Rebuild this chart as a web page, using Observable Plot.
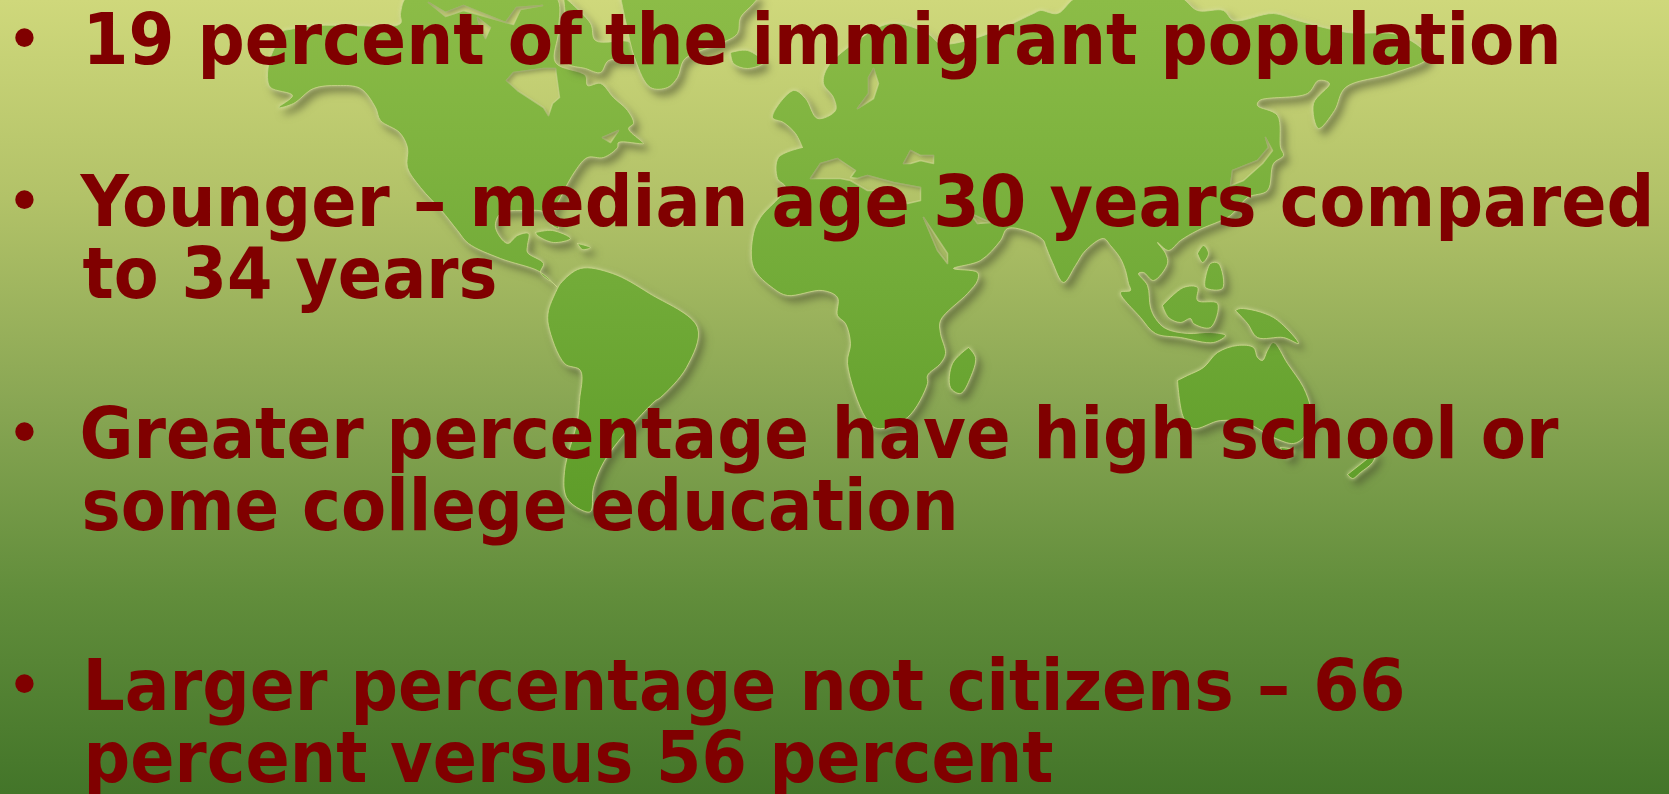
<!DOCTYPE html>
<html>
<head>
<meta charset="utf-8">
<script src="https://cdn.jsdelivr.net/npm/d3@7"></script>
<script src="https://cdn.jsdelivr.net/npm/@observablehq/plot@0.6"></script>
<style>
html,body{margin:0;padding:0;overflow:hidden;background:#8aa754}
svg{display:block}
.land path{filter:drop-shadow(0 0 2px rgba(222,230,170,.85)) drop-shadow(5px 6px 3.5px rgba(66,70,44,.5))}
.lake path{filter:url(#innerShade)}
</style>
</head>
<body>
<div id="chart"></div>
<script>
// Slide text
const bulletLines = [
  "19 percent of the immigrant population",
  "Younger \u2013 median age 30 years compared",
  "to 34 years",
  "Greater percentage have high school or",
  "some college education",
  "Larger percentage not citizens \u2013 66",
  "percent versus 56 percent"
];
const lineLeft = [82, 80, 82, 79, 81, 82, 83];
const lineRight = [1561, 1654, 497, 1558, 958, 1405, 1053];
const lineBase = [63, 225, 297, 457, 529, 709, 781];
const bulletRows = [38, 200, 432, 684];

// Map outlines
const northAmerica = [[283,30],[317,25],[350,25],[400,23],[400,13],[407,-4],[470,-4],[555,-4],[558,30],[555,62],[585,75],[587,85],[600,83],[613,97],[627,110],[633,123],[628,128],[640,140],[643,143],[618,142],[617,147],[603,157],[587,157],[575,170],[560,197],[553,212],[558,228],[552,225],[545,212],[525,210],[500,213],[495,227],[507,243],[517,235],[528,233],[527,245],[527,252],[543,263],[540,272],[553,283],[557,287],[548,278],[537,270],[500,258],[468,243],[457,230],[441,210],[420,187],[407,167],[407,147],[399,132],[380,120],[375,107],[360,88],[337,85],[313,88],[293,103],[278,107],[292,95],[270,87],[267,77],[270,57]];
const baffin = [[563,-4],[590,23],[595,40],[630,42],[635,57],[608,60],[600,72],[585,68],[566,62],[566,30]];
const cuba = [[535,232],[552,230],[570,238],[553,242],[537,235]];
const hispaniola = [[577,243],[590,247],[582,249]];
const greenland = [[620,-4],[625,20],[635,60],[650,87],[667,87],[677,77],[683,60],[693,53],[720,43],[737,33],[740,17],[753,3],[757,-4]];
const iceland = [[730,52],[747,50],[763,62],[747,68],[733,63]];
const southAmerica = [[556,290],[548,310],[548,325],[564,363],[580,370],[579,400],[577,420],[564,471],[566,497],[580,509],[590,511],[593,487],[606,457],[654,401],[660,397],[686,367],[697,327],[649,293],[612,273],[580,268],[560,283]];
const afroEurasia = [[802,147],[795,133],[783,122],[772,117],[793,90],[805,98],[817,118],[835,110],[833,97],[823,83],[827,67],[853,43],[890,23],[927,33],[940,43],[967,40],[1003,27],[1033,13],[1040,10],[1057,13],[1078,-4],[1178,-4],[1197,10],[1223,10],[1233,20],[1273,13],[1297,20],[1347,32],[1400,35],[1427,57],[1392,73],[1345,87],[1334,110],[1318,128],[1313,103],[1329,83],[1318,80],[1307,93],[1259,100],[1257,105],[1277,115],[1280,147],[1283,155],[1273,163],[1267,190],[1247,197],[1230,215],[1197,230],[1180,240],[1168,250],[1157,242],[1165,253],[1167,263],[1153,280],[1143,272],[1138,273],[1147,285],[1150,307],[1155,318],[1165,328],[1187,333],[1210,332],[1225,335],[1213,342],[1180,337],[1155,333],[1140,317],[1120,292],[1130,290],[1128,283],[1125,270],[1120,258],[1110,245],[1103,238],[1085,250],[1075,265],[1063,282],[1052,262],[1045,245],[1043,240],[1030,232],[1007,228],[1000,240],[980,260],[953,268],[977,272],[977,280],[967,293],[940,320],[940,333],[945,353],[940,363],[927,375],[927,383],[907,417],[877,428],[865,417],[847,363],[850,343],[845,323],[837,315],[837,297],[822,290],[787,295],[773,288],[753,267],[753,233],[760,217],[785,187],[777,178],[778,157]];
const madagascar = [[968,347],[975,357],[970,377],[960,393],[950,387],[952,363]];
const australia = [[1177,380],[1187,375],[1203,367],[1217,352],[1237,345],[1253,347],[1257,357],[1262,360],[1267,350],[1273,342],[1287,363],[1303,387],[1310,407],[1310,420],[1303,437],[1293,443],[1273,437],[1247,423],[1220,420],[1193,428],[1183,417]];
const tasmania = [[1280,447],[1293,450],[1287,458]];
const newZealand = [[1347,474],[1366,459],[1376,451],[1372,462],[1360,472],[1352,478]];
const borneo = [[1162,305],[1183,287],[1197,287],[1197,300],[1217,303],[1210,327],[1193,323],[1190,318],[1180,322],[1168,317]];
const luzon = [[1197,253],[1203,245],[1208,253],[1202,262]];
const mindanao = [[1205,277],[1210,263],[1218,263],[1222,288],[1205,287]];
const newGuinea = [[1235,310],[1240,308],[1273,317],[1298,343],[1283,337],[1257,337],[1247,323]];

// Inland water
const hudsonBay = [[506,80],[513,72],[543,68],[555,68],[559,97],[552,103],[548,115],[543,107],[517,90]];
const stLawrence = [[602,137],[618,130],[610,142]];
const arcticChannel = [[428,2],[445,12],[463,5],[505,22],[516,7],[542,5],[520,9],[513,24],[463,10],[445,16]];
const arcticPatch = [[477,17],[490,27],[485,38],[480,28]];
const mediterranean = [[810,178],[820,163],[837,158],[855,170],[850,177],[857,178],[867,175],[893,182],[920,187],[920,200],[907,203],[887,190],[867,190],[850,180],[840,178],[820,178]];
const blackSea = [[903,163],[910,150],[920,155],[933,155],[933,163],[920,160],[910,163]];
const bothnia = [[873,68],[878,83],[873,98],[857,108],[868,93],[868,77]];
const redSea = [[923,217],[947,253],[947,263],[937,250]];
const persianGulf = [[970,213],[990,222],[977,223]];
const japanSea = [[1265,137],[1268,147],[1257,160],[1232,170],[1230,185],[1243,180],[1262,163],[1272,150]];

const rows = (groups) => Object.entries(groups).flatMap(([name, pts]) =>
  [...pts, pts[0]].map(([x, y]) => ({name, x, y})));

const landRows = rows({northAmerica, baffin, cuba, hispaniola, greenland, iceland, southAmerica, afroEurasia, madagascar, australia, tasmania, newZealand, borneo, luzon, mindanao, newGuinea});
const waterRows = rows({hudsonBay, stLawrence, arcticChannel, arcticPatch, mediterranean, blackSea, bothnia, redSea, persianGulf, japanSea});
const textRows = bulletLines.map((text, i) => ({text, x: lineLeft[i], right: lineRight[i], y: lineBase[i]}));

const NS = "http://www.w3.org/2000/svg";
function paints() {
  const defs = document.createElementNS(NS, "defs");
  defs.innerHTML = `
  <linearGradient id="ocean" gradientUnits="userSpaceOnUse" x1="0" y1="0" x2="0" y2="794">
    <stop offset="0" stop-color="#cfd87b"/><stop offset=".25" stop-color="#b2c268"/>
    <stop offset=".5" stop-color="#8aa754"/><stop offset=".75" stop-color="#618d3b"/>
    <stop offset="1" stop-color="#437529"/>
  </linearGradient>
  <linearGradient id="landFill" gradientUnits="userSpaceOnUse" x1="0" y1="0" x2="0" y2="520">
    <stop offset="0" stop-color="#8cbc47"/><stop offset=".55" stop-color="#72ab38"/>
    <stop offset="1" stop-color="#5d9c28"/>
  </linearGradient>
  <filter id="innerShade" x="-20%" y="-20%" width="140%" height="140%">
    <feOffset in="SourceAlpha" dx="3" dy="3" result="o"/>
    <feGaussianBlur in="o" stdDeviation="2" result="b"/>
    <feComposite in="SourceAlpha" in2="b" operator="out" result="rim"/>
    <feFlood flood-color="#4e5336" flood-opacity=".55"/>
    <feComposite in2="rim" operator="in" result="shade"/>
    <feMerge><feMergeNode in="SourceGraphic"/><feMergeNode in="shade"/></feMerge>
  </filter>`;
  return defs;
}

const fitWidths = (index, scales, values, dims, ctx, next) => {
  const g = next(index, scales, values, dims, ctx);
  g.querySelectorAll("text").forEach((t, k) => {
    const d = textRows[index[k]];
    t.setAttribute("textLength", d.right - d.x);
    t.setAttribute("lengthAdjust", "spacingAndGlyphs");
  });
  return g;
};

const chart = Plot.plot({
  width: 1669, height: 794,
  margin: 0,
  x: {domain: [0, 1669], axis: null},
  y: {domain: [794, 0], axis: null},
  style: {background: "linear-gradient(#cfd87b 0%,#b2c268 25%,#8aa754 50%,#618d3b 75%,#437529 100%)", overflow: "hidden"},
  marks: [
    paints,
    Plot.line(landRows, {x: "x", y: "y", z: "name", fill: "url(#landFill)", stroke: "#cbd68c", strokeWidth: 1, strokeOpacity: .8, strokeLinejoin: "round", curve: "catmull-rom", className: "land"}),
    Plot.line(waterRows, {x: "x", y: "y", z: "name", fill: "url(#ocean)", stroke: "#cfd891", strokeWidth: 1.5, strokeOpacity: .7, strokeLinejoin: "round", curve: "linear", className: "lake"}),
    Plot.text(textRows, {x: "x", y: "y", text: "text", textAnchor: "start", lineAnchor: "bottom", fontFamily: "'DejaVu Sans Condensed','DejaVu Sans'", fontWeight: "bold", fontSize: 71, fill: "#800000", render: fitWidths}),
    Plot.text(bulletRows, {x: () => 24, y: d => d, text: () => "\u2022", textAnchor: "middle", lineAnchor: "middle", fontFamily: "'Liberation Sans'", fontWeight: "bold", fontSize: 64, fill: "#800000"})
  ]
});
document.getElementById("chart").append(chart);
</script>
</body>
</html>
